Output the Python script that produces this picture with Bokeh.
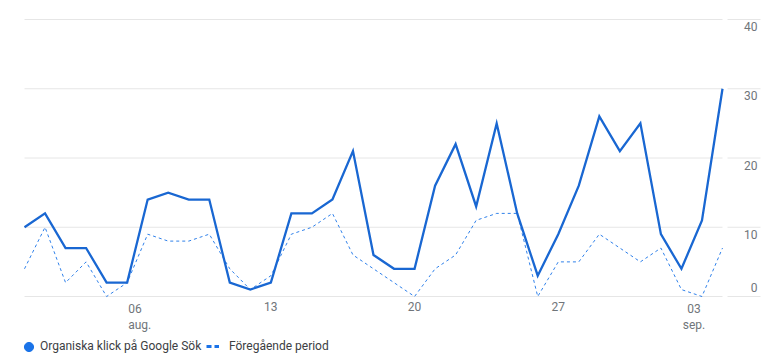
import numpy as np
import pandas as pd
from bokeh.plotting import figure
from bokeh.models import Range1d, ColumnDataSource, Legend, LegendItem
from bokeh.core.properties import value
from bokeh.embed import file_html
from bokeh.resources import INLINE

# ---------------- data ----------------
start_date = "2024-08-01"
end_date = "2024-09-04"
clicks = [10, 12, 7, 7, 2, 2, 14, 15, 14, 14, 2, 1, 2, 12, 12, 14, 21, 6, 4, 4,
          16, 22, 13, 25, 12, 3, 9, 16, 26, 21, 25, 9, 4, 11, 30]
previous = [4, 10, 2, 5, 0, 2, 9, 8, 8, 9, 4, 1, 3, 9, 10, 12, 6, 4, 2, 0,
            4, 6, 11, 12, 12, 0, 5, 5, 9, 7, 5, 7, 1, 0, 7]
y_ticks = [0, 10, 20, 30, 40]
y_tick_labels = ["0", "10", "20", "30", "40"]
x_tick_dates = ["2024-08-06", "2024-08-13", "2024-08-20", "2024-08-27", "2024-09-03"]
x_tick_labels = ["06\naug.", "13", "20", "27", "03\nsep."]
series_names = ["Organiska klick på Google Sök", "Föregående period"]

# ---------------- layout constants ----------------
W, H = 762, 355
DAY = 86400000.0
PX_PER_DAY = 698.0 / 34.0
FIRST_PX = 24.0            # frame px of first point
PX_PER_UNIT = 277.0 / 40.0
ZERO_PX = 296.0            # frame px (from top) of y = 0

dates = pd.date_range(start_date, end_date, freq="D")
t0 = dates[0].value / 1e6
t_last = dates[-1].value / 1e6
ms_per_px = DAY / PX_PER_DAY

x_start = t0 - FIRST_PX * ms_per_px
x_end = x_start + W * ms_per_px
y_start = -(H - ZERO_PX) / PX_PER_UNIT
y_end = ZERO_PX / PX_PER_UNIT

BLUE_LINE = "#1967d2"
BLUE = "#1a73e8"
GRID = "#e6e6e6"
TICK_TEXT = "#70757a"
LEGEND_TEXT = "#3c4043"
FONT = "Roboto"

p = figure(width=W, height=H, output_backend="svg", toolbar_location=None,
           x_axis_type="datetime", x_axis_location=None, y_axis_location=None,
           x_range=Range1d(x_start, x_end), y_range=Range1d(y_start, y_end),
           min_border=0, min_border_left=0, min_border_right=0,
           min_border_top=0, min_border_bottom=0)
p.outline_line_color = None
p.grid.visible = False
p.background_fill_color = "white"

# gridlines (two pieces, like the reference: plot area + label area)
n = len(y_ticks)
grid_src = ColumnDataSource(dict(
    x0=[t0] * n + [t_last + 5 * ms_per_px] * n,
    x1=[t_last] * n + [t_last + 38 * ms_per_px] * n,
    y=y_ticks + y_ticks,
))
p.segment(x0="x0", y0="y", x1="x1", y1="y", source=grid_src,
          line_color=GRID, line_width=1)

# series
src = ColumnDataSource(dict(date=dates, clicks=clicks, previous=previous))
p.line("date", "previous", source=src, line_color=BLUE, line_width=1,
       line_dash="3 3", line_alpha=0.9)
p.line("date", "clicks", source=src, line_color=BLUE_LINE, line_width=2.3,
       line_join="miter")

# y tick labels (right side, below each gridline; 0 sits above its line)
ylab_src = ColumnDataSource(dict(
    x=[t_last] * n, y=y_ticks, text=y_tick_labels,
    yoff=[-9 if v == 0 else 7 for v in y_ticks],
))
p.text(x="x", y="y", text="text", source=ylab_src, x_offset=35, y_offset="yoff",
       text_align="right", text_baseline="middle", text_color=TICK_TEXT,
       text_font=value(FONT), text_font_size="12px")

# x tick labels (first one starts at its tick, last one is pulled inwards)
nx = len(x_tick_dates)
xlab_src = ColumnDataSource(dict(
    x=pd.to_datetime(x_tick_dates), y=[0] * nx, text=x_tick_labels,
    align=["left"] + ["center"] * (nx - 2) + ["center"],
    xoff=[1] + [0] * (nx - 2) + [-8],
))
p.text(x="x", y="y", text="text", source=xlab_src, x_offset="xoff", y_offset=5,
       text_align="align", text_baseline="top", text_color=TICK_TEXT,
       text_font=value(FONT), text_font_size="12px", text_line_height=1.2)

# legend glyph renderers (placeholder rows with no drawable position)
leg_src = ColumnDataSource(dict(x=[t0, t0], y=[np.nan, np.nan]))
leg_dot = p.scatter(x="x", y="y", source=leg_src, marker="circle", size=9,
                    fill_color=BLUE, line_color=BLUE)
leg_dash = p.line(x="x", y="y", source=leg_src, line_color=BLUE, line_width=3,
                  line_dash="5 3")

legend1 = Legend(items=[LegendItem(label=series_names[0], renderers=[leg_dot])],
                 location=(17, -2.5), orientation="horizontal",
                 glyph_width=23, glyph_height=23, label_standoff=0, label_height=16,
                 padding=0, margin=0, spacing=0, border_line_color=None,
                 background_fill_alpha=0, label_text_font=FONT,
                 label_text_font_size="12px", label_text_color=LEGEND_TEXT)
legend2 = Legend(items=[LegendItem(label=series_names[1], renderers=[leg_dash])],
                 location=(206, 1), orientation="horizontal",
                 glyph_width=13, glyph_height=16, label_standoff=10, label_height=16,
                 padding=0, margin=0, spacing=0, border_line_color=None,
                 background_fill_alpha=0, label_text_font=FONT,
                 label_text_font_size="12px", label_text_color=LEGEND_TEXT)
p.add_layout(legend1)
p.add_layout(legend2)

open("out.html", "w").write(file_html(p, INLINE))
